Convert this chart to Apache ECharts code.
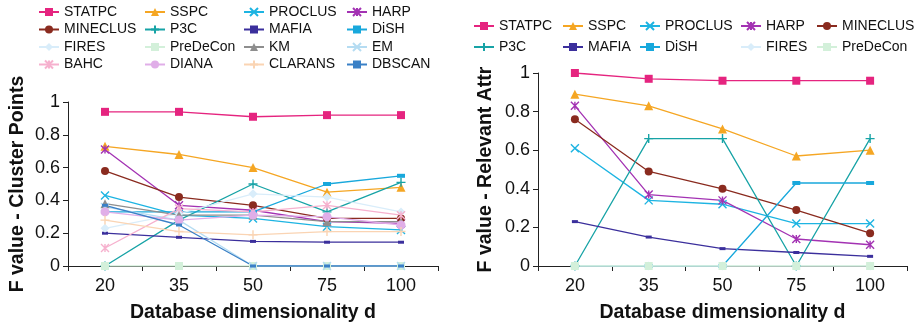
<!DOCTYPE html>
<html><head><meta charset="utf-8">
<script src="https://cdn.jsdelivr.net/npm/echarts@6/dist/echarts.min.js"></script>
<style>html,body{margin:0;padding:0;background:#fff}#c{width:914px;height:328px}</style>
</head><body><div id="c"></div>
<script>
// ---------- data ----------
const categories = ['20', '35', '50', '75', '100'];
const yTicks = [0, 0.2, 0.4, 0.6, 0.8, 1];

// Left chart: F value - Cluster Points
const cpSTATPC   = [0.94, 0.94, 0.91, 0.92, 0.92];
const cpSSPC     = [0.73, 0.68, 0.60, 0.45, 0.48];
const cpPROCLUS  = [0.43, 0.31, 0.29, 0.24, 0.22];
const cpHARP     = [0.71, 0.37, 0.34, 0.27, 0.26];
const cpMINECLUS = [0.58, 0.42, 0.37, 0.29, 0.29];
const cpP3C      = [0.00, 0.28, 0.50, 0.33, 0.51];
const cpMAFIA    = [0.20, 0.175, 0.15, 0.145, 0.145];
const cpDiSH     = [0.33, 0.33, 0.33, 0.50, 0.55];
const cpFIRES    = [0.23, 0.32, 0.44, 0.42, 0.33];
const cpPreDeCon = [0, 0, 0, 0, 0];
const cpKM       = [0.38, 0.31, 0.31, 0.27, 0.27];
const cpEM       = [0.36, 0.28, 0, 0, 0];
const cpBAHC     = [0.11, 0.35, 0.33, 0.37, 0.31];
const cpDIANA    = [0.33, 0.28, 0.31, 0.30, 0.25];
const cpCLARANS  = [0.28, 0.21, 0.19, 0.21, 0.21];
const cpDBSCAN   = [0.37, 0.25, 0, 0, 0];

// Right chart: F value - Relevant Attr
const raSTATPC   = [1.00, 0.97, 0.96, 0.96, 0.96];
const raSSPC     = [0.89, 0.83, 0.71, 0.57, 0.60];
const raPROCLUS  = [0.61, 0.34, 0.32, 0.22, 0.22];
const raHARP     = [0.83, 0.37, 0.34, 0.14, 0.11];
const raMINECLUS = [0.76, 0.49, 0.40, 0.29, 0.17];
const raP3C      = [0.00, 0.66, 0.66, 0.00, 0.66];
const raMAFIA    = [0.23, 0.15, 0.09, 0.07, 0.05];
const raDiSH     = [0.00, 0.00, 0.00, 0.43, 0.43];
const raFIRES    = [0, 0, 0, 0, 0];
const raPreDeCon = [0, 0, 0, 0, 0];

// ---------- styles ----------
const X = 'path://M0,0L10,10M10,0L0,10';
const AST = 'path://M0,0L10,10M10,0L0,10M5,0L5,10';
const PLUS = 'path://M5,0L5,10M0,5L10,5';
const sty = {
  STATPC:   {c: '#E5247F', s: 'rect', z: 8},
  SSPC:     {c: '#F5A623', s: 'triangle', z: 9},
  PROCLUS:  {c: '#1DB4E2', s: X, z: 8, st: true},
  HARP:     {c: '#A332B3', s: AST, z: 8, st: true},
  MINECLUS: {c: '#8A2B1F', s: 'circle', z: 8},
  P3C:      {c: '#17A3A6', s: PLUS, z: 9, st: true},
  MAFIA:    {c: '#3B2F9C', s: 'rect', z: [6, 3]},
  DiSH:     {c: '#18A8DC', s: 'rect', z: [8, 4]},
  FIRES:    {c: '#D9EDFA', s: 'diamond', z: 9},
  PreDeCon: {c: '#D3F0DA', s: 'rect', z: 8},
  KM:       {c: '#8E8E8E', s: 'triangle', z: 9},
  EM:       {c: '#B5DCF2', s: X, z: 8, st: true},
  BAHC:     {c: '#F6B1CE', s: AST, z: 8, st: true},
  DIANA:    {c: '#E0AEE8', s: 'circle', z: 9},
  CLARANS:  {c: '#FAD4B3', s: PLUS, z: 9, st: true},
  DBSCAN:   {c: '#3A80C6', s: 'rect', z: [6, 3]}
};

const leftData = {STATPC: cpSTATPC, SSPC: cpSSPC, PROCLUS: cpPROCLUS, HARP: cpHARP,
  MINECLUS: cpMINECLUS, P3C: cpP3C, MAFIA: cpMAFIA, DiSH: cpDiSH, FIRES: cpFIRES,
  PreDeCon: cpPreDeCon, KM: cpKM, EM: cpEM, BAHC: cpBAHC, DIANA: cpDIANA,
  CLARANS: cpCLARANS, DBSCAN: cpDBSCAN};
const rightData = {STATPC: raSTATPC, SSPC: raSSPC, PROCLUS: raPROCLUS, HARP: raHARP,
  MINECLUS: raMINECLUS, P3C: raP3C, MAFIA: raMAFIA, DiSH: raDiSH, FIRES: raFIRES,
  PreDeCon: raPreDeCon};

const FONT = 'Liberation Sans, Arial, Helvetica, sans-serif';
const TXT = '#111';

function mkSeries(name, data, idx) {
  const st = sty[name];
  return {
    name: name, type: 'line', xAxisIndex: idx, yAxisIndex: idx, data: data,
    symbol: st.s, symbolSize: st.z, symbolKeepAspect: true,
    showAllSymbol: true,
    lineStyle: {color: st.c, width: 1.3},
    itemStyle: {color: st.c, borderColor: st.c, borderWidth: st.st ? 1.4 : 0},
    emphasis: {disabled: true}, animation: false
  };
}

const series = [];
Object.keys(leftData).forEach(n => series.push(mkSeries(n, leftData[n], 0)));
Object.keys(rightData).forEach(n => series.push(mkSeries(n, rightData[n], 1)));

function xAx(idx) {
  return {
    type: 'category', gridIndex: idx, data: categories, boundaryGap: true,
    axisLine: {lineStyle: {color: '#222', width: 1}},
    axisTick: {show: true, length: 5, lineStyle: {color: '#222'}},
    axisLabel: {fontSize: 18, color: TXT, fontFamily: FONT, margin: 11},
    name: 'Database dimensionality d', nameLocation: 'middle', nameGap: 37,
    nameTextStyle: {fontSize: 19.5, fontWeight: 'bold', color: TXT, fontFamily: FONT},
    splitLine: {show: false}
  };
}
function yAx(idx, name, gap) {
  return {
    type: 'value', gridIndex: idx, min: 0, max: 1, interval: 0.2,
    axisLine: {show: true, lineStyle: {color: '#222', width: 1}},
    axisTick: {show: true, length: 5, lineStyle: {color: '#222'}},
    axisLabel: {fontSize: 18, color: TXT, fontFamily: FONT, margin: 8,
      formatter: v => String(yTicks.find(t => Math.abs(t - v) < 1e-9) ?? v)},
    splitLine: {show: false},
    name: name, nameLocation: 'middle', nameGap: gap,
    nameTextStyle: {fontSize: 19.5, fontWeight: 'bold', color: TXT, fontFamily: FONT}
  };
}

function legendCol(left, top, names, gap) {
  return {
    orient: 'vertical', left: left, top: top, data: names, padding: 0,
    itemWidth: 20, itemHeight: 10, itemGap: gap,
    textStyle: {fontSize: 14, color: TXT, fontFamily: FONT},
    selectedMode: false
  };
}

const option = {
  backgroundColor: '#fff',
  animation: false,
  grid: [
    {left: 68, top: 102, width: 370, height: 166},
    {left: 538, top: 73, width: 369, height: 196}
  ],
  xAxis: [xAx(0), xAx(1)],
  yAxis: [yAx(0, 'F value - Cluster Points', 40), yAx(1, 'F value - Relevant Attr', 42)],
  legend: [
    legendCol(38, 5, ['STATPC', 'MINECLUS', 'FIRES', 'BAHC'], 3.5),
    legendCol(144, 5, ['SSPC', 'P3C', 'PreDeCon', 'DIANA'], 3.5),
    legendCol(243, 5, ['PROCLUS', 'MAFIA', 'KM', 'CLARANS'], 3.5),
    legendCol(346, 5, ['HARP', 'DiSH', 'EM', 'DBSCAN'], 3.5),
    legendCol(473, 19, ['STATPC', 'P3C'], 7),
    legendCol(562, 19, ['SSPC', 'MAFIA'], 7),
    legendCol(639, 19, ['PROCLUS', 'DiSH'], 7),
    legendCol(740, 19, ['HARP', 'FIRES'], 7),
    legendCol(816, 19, ['MINECLUS', 'PreDeCon'], 7)
  ],
  series: series
};

const chart = echarts.init(document.getElementById('c'), null, {renderer: 'canvas'});
chart.setOption(option);
</script>
</body></html>
